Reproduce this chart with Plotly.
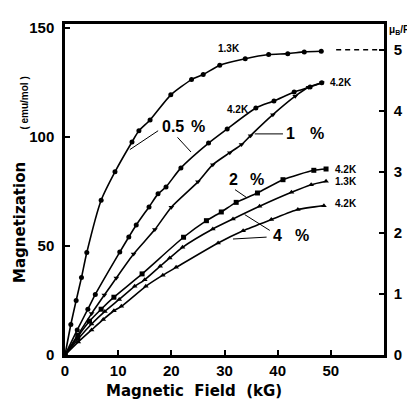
import plotly.graph_objects as go

# ---- data ----
x_05_13 = [0, 1.1, 2.1, 3.1, 4.1, 6.8, 9.4, 12.6, 13.9, 16.0, 19.9, 23.8, 26.0, 29.1, 33.9, 38.3, 41.9, 45.0, 48.2]
y_05_13 = [0, 14, 25, 35.5, 47, 71, 84, 97.7, 102.8, 107.8, 119.3, 126.3, 128.6, 132.9, 135.9, 137.8, 138.2, 139.0, 139.3]

x_05_42 = [0, 2.3, 4.3, 5.7, 10.3, 12.0, 13.4, 15.8, 17.5, 19.0, 21.8, 27.0, 30.5, 35.9, 39.3, 43.1, 46.1, 48.3]
y_05_42 = [0, 11.5, 21, 27.8, 47.2, 54.1, 59.6, 67.9, 73.9, 77.1, 85.8, 97.2, 103.7, 113.3, 116.5, 120.6, 122.9, 124.8]

x_1_42 = [0, 2.5, 5.0, 7.4, 9.65, 12.9, 16.9, 20.0, 25.0, 27.8, 31.0, 33.2, 34.9, 39.1, 43.3, 45.8, 48.3]
y_1_42 = [0, 9.5, 19, 27.5, 35.3, 46.3, 57.5, 67.8, 79.4, 87.3, 92.8, 96.5, 100.6, 110.2, 118.7, 122.8, 124.8]

x_2_42 = [0, 2.4, 4.6, 6.8, 9.2, 14.5, 22.3, 26.6, 29.4, 32.2, 36.2, 41.0, 46.8, 49.1]
y_2_42 = [0, 8.5, 15.5, 21, 26.5, 37.2, 54.0, 61.6, 65.6, 70.0, 74.3, 80.4, 84.7, 85.3]

x_4_13 = [0, 2.5, 5.0, 7.5, 10.2, 13.1, 15.0, 17.9, 19.7, 22.1, 27.8, 31.6, 36.6, 42.6, 46.3, 49.1]
y_4_13 = [0, 7.5, 14.2, 20, 25.5, 31.5, 34.5, 40.7, 44.5, 49.4, 57.8, 62.4, 68.2, 74.6, 78.1, 79.7]

x_4_42 = [0, 2.5, 5.0, 7.2, 9.2, 10.6, 15.2, 18.4, 20.9, 28.8, 33.5, 38.8, 43.8, 48.7]
y_4_42 = [0, 6, 11.5, 16.3, 20.3, 22.3, 31.5, 36.6, 40.2, 51.4, 57.0, 62.1, 66.7, 68.5]

sat_x = [51, 60]          # dashed saturation line (kG)
sat_y = [5, 5]            # in muB/Fe

x_ticks = [0, 10, 20, 30, 40, 50]
y_ticks = [0, 50, 100, 150]
y2_ticks = [0, 1, 2, 3, 4, 5]

# ---- styling ----
TICK_FONT = dict(family="Liberation Sans Narrow, Liberation Sans, Arial", size=15, color="black", weight=700)
LAB_FONT = dict(family="Liberation Sans, Arial", size=10, color="black", weight=700)
BIG_FONT = dict(family="Liberation Sans, Arial", size=16, color="black", weight=700)
TITLE_FONT = dict(family="DejaVu Sans", size=15, color="black", weight=700)

fig = go.Figure()

series = [
    (x_05_13, y_05_13, "circle", 5),
    (x_05_42, y_05_42, "circle", 5),
    (x_1_42, y_1_42, "triangle-down", 5),
    (x_2_42, y_2_42, "square", 5),
    (x_4_13, y_4_13, "triangle-up", 5),
    (x_4_42, y_4_42, "triangle-up", 5),
]
for xs, ys, sym, sz in series:
    fig.add_trace(go.Scatter(
        x=xs, y=ys, mode="lines+markers",
        line=dict(color="black", width=1.6, shape="spline", smoothing=0.6),
        marker=dict(symbol=sym, size=sz, color="black"),
        showlegend=False, hoverinfo="skip",
    ))

fig.add_trace(go.Scatter(
    x=sat_x, y=sat_y, yaxis="y2", mode="lines",
    line=dict(color="black", width=1.5, dash="5px,4px"),
    showlegend=False, hoverinfo="skip",
))

fig.update_layout(
    width=415, height=402,
    margin=dict(l=57, r=39, t=16, b=55),
    paper_bgcolor="white", plot_bgcolor="white",
    xaxis=dict(
        range=[0, 60], tickvals=x_ticks, ticks="inside", ticklen=5, tickwidth=1.5,
        tickcolor="black", showline=True, linewidth=2.5, linecolor="black",
        mirror=True, showgrid=False, zeroline=False, tickfont=TICK_FONT,
        ticklabelstandoff=0,
    ),
    yaxis=dict(
        range=[0, 151.8], tickvals=y_ticks, ticks="inside", ticklen=5, tickwidth=1.5,
        tickcolor="black", showline=True, linewidth=2.5, linecolor="black",
        showgrid=False, zeroline=False, tickfont=TICK_FONT, ticklabelstandoff=5,
    ),
    yaxis2=dict(
        range=[0, 151.8 / 28], tickvals=y2_ticks, ticks="inside", ticklen=5, tickwidth=1.5,
        tickcolor="black", showline=True, linewidth=2.5, linecolor="black",
        overlaying="y", side="right", showgrid=False, zeroline=False,
        tickfont=TICK_FONT, ticklabelstandoff=4,
    ),
)

ann = []
# axis titles
ann.append(dict(text="Magnetic  Field  (kG)", xref="paper", yref="paper", x=0.404, y=-0.11,
                xanchor="center", yanchor="middle", showarrow=False, font=TITLE_FONT))
ann.append(dict(text="Magnetization", xref="paper", yref="paper", x=-0.141, y=0.399,
                xanchor="center", yanchor="middle", textangle=-90, showarrow=False, font=TITLE_FONT))
ann.append(dict(text="( emu/mol )", xref="paper", yref="paper", x=-0.128, y=0.76,
                xanchor="center", yanchor="middle", textangle=-90, showarrow=False,
                font=dict(family="Liberation Sans, Arial", size=10, color="black", weight=700)))
ann.append(dict(text="μ<sub>B</sub>/Fe", xref="paper", yref="paper", x=1.008, y=0.982,
                xanchor="left", yanchor="middle", showarrow=False,
                font=dict(family="Liberation Sans Narrow, Liberation Sans, Arial", size=10, color="black", weight=700)))

# curve labels
def lab(t, x, y, font=LAB_FONT, xa="center"):
    ann.append(dict(text=t, x=x, y=y, xref="x", yref="y", xanchor=xa, yanchor="middle",
                    showarrow=False, font=font))

lab("1.3K", 30.8, 140.4)
lab("4.2K", 49.5, 124.8, xa="left")
lab("4.2K", 32.5, 112.8)
lab("4.2K", 50.4, 84.9, xa="left")
lab("1.3K", 50.4, 79.8, xa="left")
lab("4.2K", 50.4, 69.7, xa="left")
lab("0.5", 20.3, 105, BIG_FONT)
lab("%", 25.0, 105, BIG_FONT)
lab("1", 42.5, 101.4, BIG_FONT)
lab("%", 47.4, 101.4, BIG_FONT)
lab("2", 31.6, 80.5, BIG_FONT)
lab("%", 36.1, 80.5, BIG_FONT)
lab("4", 39.9, 55, BIG_FONT)
lab("%", 44.6, 55, BIG_FONT)

# leader lines (annotation arrows without heads)
def leader(x0, y0, x1, y1):
    ann.append(dict(text="", x=x1, y=y1, ax=x0, ay=y0, xref="x", yref="y", axref="x", ayref="y",
                    showarrow=True, arrowhead=0, arrowwidth=1, arrowcolor="black", standoff=0,
                    startstandoff=0))

leader(17.8, 103.3, 12.2, 94.2)
leader(20.9, 100.5, 23.7, 93.1)
leader(35.4, 101.4, 41.0, 101.4)
leader(31.7, 76.3, 34.1, 72.3)
leader(38.8, 56.7, 33.8, 64.4)
leader(38.2, 54.1, 31.6, 53.2)

fig.update_layout(annotations=ann)
fig.write_html("out.html")
